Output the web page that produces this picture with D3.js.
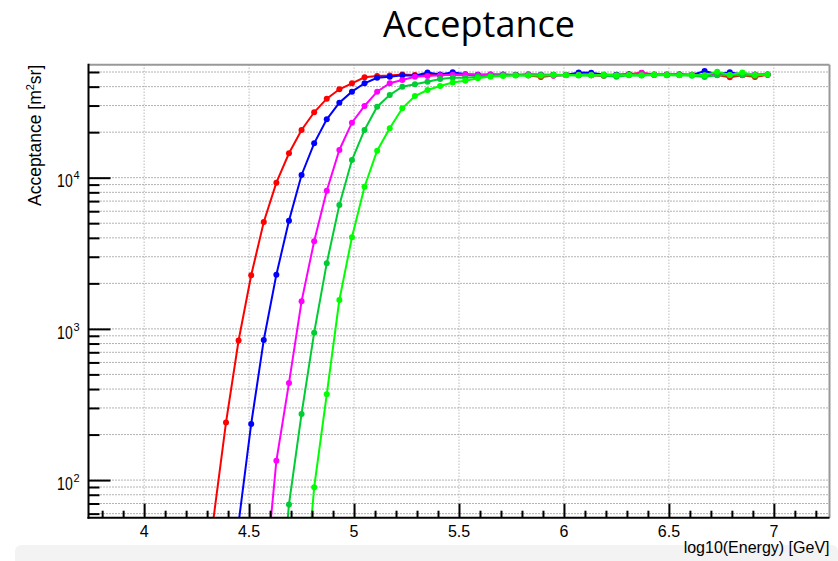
<!DOCTYPE html>
<html>
<head>
<meta charset="utf-8">
<script src="https://cdn.jsdelivr.net/npm/d3@7"></script>
<style>
  html, body { margin: 0; padding: 0; background: #fff; }
  svg { display: block; font-family: "Liberation Sans", Arial, Helvetica, sans-serif; }
</style>
</head>
<body>
<svg id="chart" width="838" height="561"></svg>
<script>
// Bin centres, log10(E / GeV)
const logEnergy = [
  4.33, 4.39, 4.45, 4.51, 4.57, 4.63, 4.69, 4.75, 4.81, 4.87,
  4.93, 4.99, 5.05, 5.11, 5.17, 5.23, 5.29, 5.35, 5.41, 5.47,
  5.53, 5.59, 5.65, 5.71, 5.77, 5.83, 5.89, 5.95, 6.01, 6.07,
  6.13, 6.19, 6.25, 6.31, 6.37, 6.43, 6.49, 6.55, 6.61, 6.67,
  6.73, 6.79, 6.85, 6.91, 6.97
];

// Acceptance in m^2 sr for each configuration (null = no entry in that bin)
const accRed = [
  55, 240, 838, 2262, 5093, 9268, 14500, 20680, 27070, 33300,
  38430, 42110, 46130, 47060, 47400, 48200, 47800, 48000, 47600, 48100,
  47700, 48000, 47800, 47500, 47900, 47600, 46300, 47400, 47800, 47900,
  47600, 47200, 47800, 48300, 49500, 47900, 48100, 47700, 48000, 47500,
  47800, 46200, 47600, 46300, 47900
];
const accBlue = [
  null, null, 52, 235, 845, 2283, 5195, 10420, 16880, 24320,
  31330, 37060, 42110, 45810, 46520, 47600, 47200, 49600, 48200, 49800,
  48300, 48000, 47900, 48100, 47800, 48200, 47900, 48000, 47800, 49700,
  49400, 48000, 47900, 48100, 47700, 48000, 47900, 48200, 47800, 50800,
  48300, 49800, 47900, 48000, 48200
];
const accMagenta = [
  null, null, null, null, 17.5, 134, 438, 1522, 3797, 8203,
  15250, 23110, 29790, 37060, 42110, 44260, 46520, 47000, 47600, 47900,
  48200, 47800, 48300, 48000, 47700, 48100, 47900, 47300, 47800, 48000,
  47900, 47500, 47200, 48000, 49200, 48100, 47700, 48300, 47900, 47600,
  48000, 47800, 47700, 48100, 47900
];
const accGreenDark = [
  null, null, null, null, null, 8, 69, 274, 944, 2720,
  6597, 13090, 20680, 29480, 35240, 39990, 41470, 43150, 44960, 45860,
  45860, 46560, 47200, 47500, 47600, 47400, 47800, 47500, 47700, 47400,
  47600, 47300, 46500, 47500, 47400, 47700, 47500, 47800, 47300, 46400,
  47600, 47500, 47700, 47300, 48000
];
const accGreen = [
  null, null, null, null, null, null, null, 9.5, 89.6, 369,
  1552, 4036, 8720, 15090, 21220, 28770, 34700, 38020, 40420, 42600,
  43700, 45500, 46600, 47000, 47400, 47600, 47300, 47700, 47500, 47800,
  47600, 47900, 47500, 47800, 47600, 47900, 47700, 47500, 47800, 47600,
  50200, 47800, 49600, 47700, 48100
];

const seriesColors = ["#ff0000", "#0000ff", "#ff00ff", "#00cc33", "#00ff00"];

// Axis ticks and labels
const xMajorTicks = [4, 4.5, 5, 5.5, 6, 6.5, 7];
const xTickLabels = ["4", "4.5", "5", "5.5", "6", "6.5", "7"];
const yMajorTicks = [100, 1000, 10000];
const yTickExponents = ["2", "3", "4"];

const titleText = "Acceptance";
const xTitle = "log10(Energy) [GeV]";

const svg = d3.select("#chart");
const W = 838, H = 561;
const frame = { left: 88.5, right: 829.5, top: 64.7, bottom: 517.7 };

const x = d3.scaleLinear().domain([3.735, 7.265]).range([frame.left, frame.right]);
const y = d3.scaleLog().domain([56.4, 55880]).range([frame.bottom, frame.top]);

// Light band along the bottom edge
svg.append("rect")
  .attr("x", 15).attr("y", 545).attr("width", W - 15).attr("height", 20)
  .attr("rx", 6).attr("fill", "#f3f3f3");

// Minor ticks
const [y0, y1] = y.domain();
const yAllTicks = [];
for (let e = 1; e <= 5; e++) {
  for (let k = 1; k <= 9; k++) {
    const v = k * Math.pow(10, e);
    if (v >= y0 && v <= y1) yAllTicks.push(v);
  }
}
const xMinorTicks = d3.range(38, 73).map(d => d / 10)
  .filter(v => !xMajorTicks.some(m => Math.abs(m - v) < 1e-9));

// Grid
const grid = svg.append("g");
grid.selectAll("line.hg").data(yAllTicks).join("line")
  .attr("x1", frame.left).attr("x2", frame.right)
  .attr("y1", d => y(d)).attr("y2", d => y(d))
  .attr("stroke", "#666").attr("stroke-width", 1)
  .attr("stroke-dasharray", "1,2");
grid.selectAll("line.vg").data(xMajorTicks).join("line")
  .attr("x1", d => x(d)).attr("x2", d => x(d))
  .attr("y1", frame.top).attr("y2", frame.bottom)
  .attr("stroke", "#999").attr("stroke-width", 1)
  .attr("stroke-dasharray", "1,2");

// Frame top / right
svg.append("line").attr("x1", frame.left).attr("x2", frame.right)
  .attr("y1", frame.top).attr("y2", frame.top)
  .attr("stroke", "#999").attr("stroke-width", 2);
svg.append("line").attr("x1", frame.right).attr("x2", frame.right)
  .attr("y1", frame.top).attr("y2", frame.bottom)
  .attr("stroke", "#999").attr("stroke-width", 2);

// Data
svg.append("clipPath").attr("id", "plotClip")
  .append("rect").attr("x", frame.left).attr("y", frame.top)
  .attr("width", frame.right - frame.left).attr("height", frame.bottom - frame.top);

const allSeries = [accRed, accBlue, accMagenta, accGreenDark, accGreen];
const plot = svg.append("g").attr("clip-path", "url(#plotClip)");
const line = d3.line()
  .defined(d => d.v != null)
  .x(d => x(d.e))
  .y(d => y(d.v));

allSeries.forEach((vals, i) => {
  const pts = logEnergy.map((e, j) => ({ e, v: vals[j] }));
  const g = plot.append("g");
  g.append("path").datum(pts)
    .attr("d", line)
    .attr("fill", "none")
    .attr("stroke", seriesColors[i])
    .attr("stroke-width", 2);
  g.selectAll("circle")
    .data(pts.filter(d => d.v != null && d.v >= y0 && d.v <= y1))
    .join("circle")
    .attr("cx", d => x(d.e)).attr("cy", d => y(d.v))
    .attr("r", 3)
    .attr("fill", seriesColors[i]);
});

// Axes
const xAxisMajor = d3.axisBottom(x).tickValues(xMajorTicks).tickSize(-14).tickFormat("");
const xAxisMinor = d3.axisBottom(x).tickValues(xMinorTicks).tickSize(-7).tickFormat("");
const gx = svg.append("g").attr("transform", `translate(0,${frame.bottom})`);
gx.append("g").call(xAxisMajor);
gx.append("g").call(xAxisMinor);
gx.selectAll(".domain").remove();
gx.selectAll("line").attr("stroke", "#000").attr("stroke-width", 2);

const yMinor = yAllTicks.filter(v => !yMajorTicks.includes(v));
const yAxisMajor = d3.axisLeft(y).tickValues(yMajorTicks).tickSize(-22).tickFormat("");
const yAxisMinor = d3.axisLeft(y).tickValues(yMinor).tickSize(-11).tickFormat("");
const gy = svg.append("g").attr("transform", `translate(${frame.left},0)`);
gy.append("g").call(yAxisMajor);
gy.append("g").call(yAxisMinor);
gy.selectAll(".domain").remove();
gy.selectAll("line").attr("stroke", "#000").attr("stroke-width", 2);

// Axis lines
svg.append("line").attr("x1", frame.left).attr("x2", frame.left)
  .attr("y1", frame.top - 1).attr("y2", frame.bottom + 1)
  .attr("stroke", "#000").attr("stroke-width", 2);
svg.append("line").attr("x1", frame.left - 1).attr("x2", frame.right)
  .attr("y1", frame.bottom).attr("y2", frame.bottom)
  .attr("stroke", "#000").attr("stroke-width", 2);

// X tick labels
svg.append("g").selectAll("text").data(xMajorTicks).join("text")
  .attr("x", d => x(d)).attr("y", frame.bottom + 19.5)
  .attr("text-anchor", "middle")
  .attr("font-size", 16).attr("fill", "#000")
  .text((d, i) => xTickLabels[i]);

// Y tick labels: 10 with exponent
const yl = svg.append("g");
yMajorTicks.forEach((v, i) => {
  const yy = y(v);
  yl.append("text").attr("x", 0).attr("y", 0)
    .attr("text-anchor", "end").attr("font-size", 18)
    .attr("transform", `translate(72.7,${yy + 9.8}) scale(0.78,1)`)
    .text("10");
  yl.append("text").attr("x", 73.6).attr("y", yy + 1.8)
    .attr("font-size", 11)
    .text(yTickExponents[i]);
});

// Y axis title
svg.append("text")
  .attr("transform", `translate(41,${frame.top}) rotate(-90)`)
  .attr("text-anchor", "end")
  .attr("font-size", 17.5)
  .attr("fill", "#000")
  .call(t => {
    t.append("tspan").text("Acceptance [m");
    t.append("tspan").attr("font-size", 11).attr("dy", -7).text("2");
    t.append("tspan").attr("dy", 7).text("sr]");
  });

// X axis title
svg.append("text")
  .attr("x", frame.right).attr("y", 553)
  .attr("text-anchor", "end")
  .attr("font-size", 16).attr("fill", "#000")
  .text(xTitle);

// Title
svg.append("text")
  .attr("x", 479).attr("y", 37)
  .attr("text-anchor", "middle")
  .attr("font-family", "'Open Sans', 'Liberation Sans', sans-serif")
  .attr("font-size", 36).attr("fill", "#000")
  .text(titleText);
</script>
</body>
</html>
